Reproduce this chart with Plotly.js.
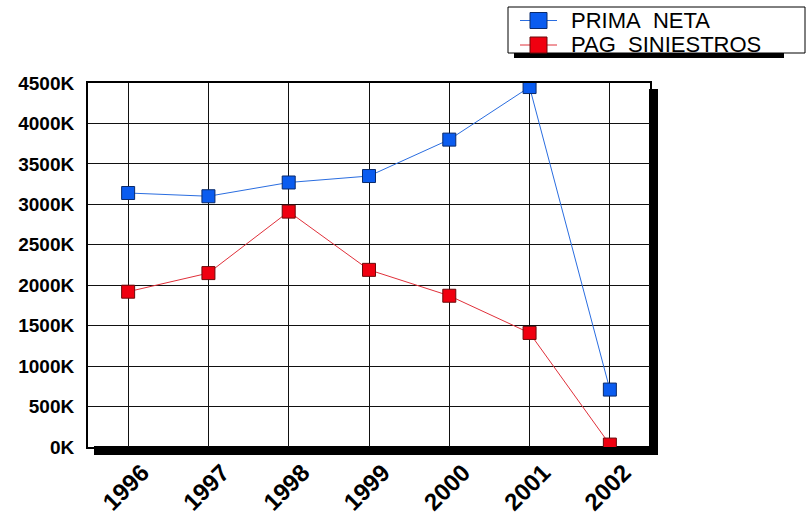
<!DOCTYPE html>
<html><head><meta charset="utf-8">
<script src="https://cdn.plot.ly/plotly-3.0.1.min.js"></script>
<style>body{margin:0;background:#fff}</style>
</head><body><div id="chart" style="width:811px;height:519px"></div>
<script>
var years = ['1996','1997','1998','1999','2000','2001','2002'];
var primaNeta = [3140, 3100, 3270, 3350, 3800, 4450, 710];
var pagSiniestros = [1920, 2150, 2910, 2190, 1870, 1410, 30];
var seriesNames = ['PRIMA\u00a0\u00a0NETA', 'PAG\u00a0\u00a0SINIESTROS'];
var yTickVals = [0,500,1000,1500,2000,2500,3000,3500,4000,4500];
var yTickText = yTickVals.map(function(v){return v+'K';});

var L=88, R=650, T=83, B=447;
var W=811, H=519;
var pw=R-L, ph=B-T;
function px(x){return (x-L)/pw;}
function py(y){return (B-y)/ph;}

var lineCols = ['#2a6de0', '#e0303a'];
var fillCols = ['#0a5cf0', '#f00010'];
var edgeCols = ['#0a2a6a', '#6a0a0a'];

var traces = [
 {x: years, y: primaNeta, name: seriesNames[0], type:'scatter', mode:'lines+markers',
  line:{color:lineCols[0], width:1}, marker:{symbol:'square', size:13, color:fillCols[0], line:{color:edgeCols[0], width:1}}},
 {x: years, y: pagSiniestros, name: seriesNames[1], type:'scatter', mode:'lines+markers',
  line:{color:lineCols[1], width:1}, marker:{symbol:'square', size:13, color:fillCols[1], line:{color:edgeCols[1], width:1}}}
];

var shapes = [
  {type:'rect', xref:'paper', yref:'paper', x0:px(R-1), x1:px(R+8), y0:py(B+8), y1:py(T+6), fillcolor:'#000', line:{width:0}, layer:'below'},
  {type:'rect', xref:'paper', yref:'paper', x0:px(L+6), x1:px(R+8), y0:py(B+8), y1:py(B-1), fillcolor:'#000', line:{width:0}, layer:'below'},
  // legend shadow + box
  {type:'rect', xref:'paper', yref:'paper', x0:px(514), x1:px(784), y0:py(58), y1:py(53), fillcolor:'#000', line:{width:0}},
  {type:'rect', xref:'paper', yref:'paper', x0:px(508), x1:px(805), y0:py(53), y1:py(7), fillcolor:'#fff', line:{color:'#000', width:1}}
];
var annotations = [];
var rowY = [20.5, 45];
for (var i=0;i<2;i++){
  shapes.push({type:'line', xref:'paper', yref:'paper', x0:px(520), x1:px(557), y0:py(rowY[i]), y1:py(rowY[i]), line:{color:lineCols[i], width:1}});
  shapes.push({type:'rect', xref:'paper', yref:'paper', x0:px(530), x1:px(547), y0:py(rowY[i]+8), y1:py(rowY[i]-8), fillcolor:fillCols[i], line:{color:edgeCols[i], width:1}});
  annotations.push({xref:'paper', yref:'paper', x:px(569), y:py(rowY[i]), xanchor:'left', yanchor:'middle', showarrow:false,
    text: seriesNames[i], font:{size:22, color:'#000', family:'Liberation Sans, Arial, sans-serif'}});
}

var layout = {
 width: W, height: H,
 margin:{l:L, r:W-R, t:T, b:H-B, autoexpand:false},
 paper_bgcolor:'#fff', plot_bgcolor:'#fff',
 font:{family:'Liberation Sans, Arial, sans-serif', color:'#000'},
 showlegend:false,
 xaxis:{type:'category', range:[-0.5,6.5], showgrid:true, gridcolor:'#111', gridwidth:1,
   showline:true, linecolor:'#000', linewidth:2, mirror:true, ticks:'', tickangle:-45,
   ticklabelshift:14, ticklabelstandoff:0,
   tickfont:{size:24, family:'Liberation Sans, Arial, sans-serif', weight:'bold'}, fixedrange:true},
 yaxis:{range:[0,4500], tickvals:yTickVals, ticktext:yTickText, showgrid:true, gridcolor:'#111', gridwidth:1,
   showline:true, linecolor:'#000', linewidth:2, mirror:true, ticks:'', zeroline:false,
   ticklabelstandoff:8,
   tickfont:{size:19, weight:'bold'}, fixedrange:true},
 shapes: shapes,
 annotations: annotations
};
Plotly.newPlot('chart', traces, layout, {displayModeBar:false, staticPlot:true});
</script></body></html>
